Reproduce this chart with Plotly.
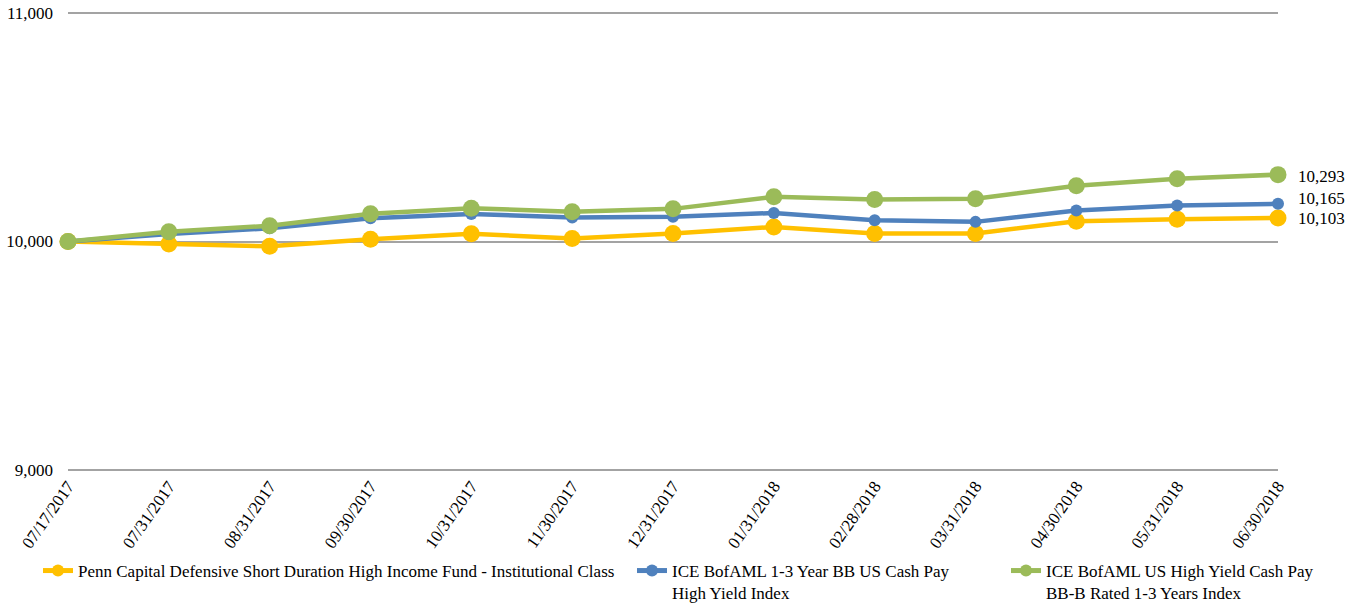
import plotly.graph_objects as go

dates = ["07/17/2017", "07/31/2017", "08/31/2017", "09/30/2017", "10/31/2017",
         "11/30/2017", "12/31/2017", "01/31/2018", "02/28/2018", "03/31/2018",
         "04/30/2018", "05/31/2018", "06/30/2018"]

fund = [10000, 9989, 9979, 10010, 10034, 10013, 10035, 10064, 10035, 10035,
        10089, 10098, 10103]
bb_index = [10000, 10033, 10058, 10102, 10121, 10105, 10108, 10125, 10093, 10086,
            10136, 10158, 10165]
bbb_index = [10000, 10043, 10069, 10122, 10146, 10130, 10143, 10196, 10184, 10187,
             10244, 10275, 10293]

names = [
    "Penn Capital Defensive Short Duration High Income Fund - Institutional Class",
    "ICE BofAML 1-3 Year BB US Cash Pay<br>High Yield Index",
    "ICE BofAML US High Yield Cash Pay<br>BB-B Rated 1-3 Years Index",
]
colors = ["#FFC000", "#4F81BD", "#9BBB59"]
marker_sizes = [17, 12, 17]
series = [fund, bb_index, bbb_index]
legend_ids = ["legend", "legend2", "legend3"]
legend_x_px = [38, 632, 1006]
label_shifts = [-1, 5, -2]  # small vertical nudges so end labels don't collide

FONT = '"Liberation Serif", "Times New Roman", serif'
W, H = 1353, 604

fig = go.Figure()
for vals, name, col, ms, lg in zip(series, names, colors, marker_sizes, legend_ids):
    fig.add_trace(go.Scatter(
        x=dates, y=vals, name=name, mode="lines+markers",
        line=dict(color=col, width=4.5),
        marker=dict(color=col, size=ms),
        legend=lg, cliponaxis=False,
    ))

# value labels at the final point of each series
for vals, dy in zip(series, label_shifts):
    fig.add_annotation(
        x=dates[-1], y=vals[-1], text=f"{vals[-1]:,}",
        showarrow=False, xanchor="left", xshift=18, yshift=dy,
        font=dict(family=FONT, size=17, color="#000000"),
    )

legend_style = dict(
    orientation="h", yanchor="top", xanchor="left", valign="top",
    xref="container", yref="container", itemsizing="constant",
    font=dict(family=FONT, size=17, color="#000000"),
    bgcolor="rgba(0,0,0,0)", itemwidth=30,
)
legend_top = 1 - 553 / H

legends = {
    lg: dict(**legend_style, x=px / W, y=legend_top)
    for lg, px in zip(legend_ids, legend_x_px)
}

fig.update_layout(
    width=W, height=H,
    margin=dict(l=68, r=75, t=11, b=132, autoexpand=False),
    paper_bgcolor="white", plot_bgcolor="white",
    font=dict(family=FONT, size=17, color="#000000"),
    showlegend=True,
    xaxis=dict(
        type="category", range=[0, len(dates) - 1], automargin=False,
        showgrid=False, zeroline=False, showline=False,
        tickangle=-55, ticks="", tickfont=dict(family=FONT, size=17),
    ),
    yaxis=dict(
        range=[8990, 11010], tick0=9000, dtick=1000, tickformat=",",
        showgrid=True, gridcolor="#A3A3A3", gridwidth=1.6, automargin=False,
        zeroline=False, showline=False, ticks="",
        tickfont=dict(family=FONT, size=17), ticklabelstandoff=14,
    ),
    **legends,
)

fig.write_html("out.html")
